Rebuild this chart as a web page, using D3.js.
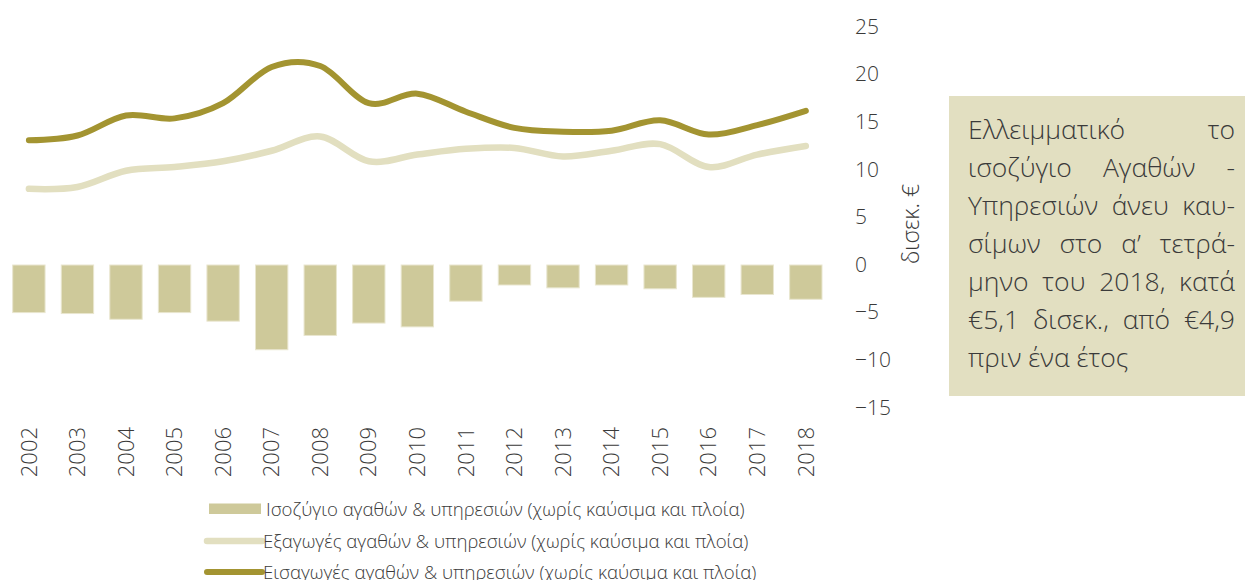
<!DOCTYPE html>
<html>
<head>
<meta charset="utf-8">
<script src="https://cdn.jsdelivr.net/npm/d3@7"></script>
<style>
  html, body { margin: 0; padding: 0; background: #fff; }
  svg { display: block; font-family: "Open Sans", "Noto Sans", sans-serif; font-weight: 300; }
</style>
</head>
<body>
<svg id="chart" width="1245" height="580"></svg>
<script>
// Years on the category axis
const years = ["2002","2003","2004","2005","2006","2007","2008","2009","2010",
               "2011","2012","2013","2014","2015","2016","2017","2018"];
// Balance of goods & services excl. fuel and ships (bn €)
const balance = [-5.0,-5.1,-5.7,-5.0,-5.9,-8.9,-7.4,-6.1,-6.5,-3.8,-2.1,-2.4,-2.1,-2.5,-3.4,-3.1,-3.6];
// Exports of goods & services excl. fuel and ships (bn €)
const exportsVals = [8.0,8.2,9.9,10.3,10.9,12.0,13.5,10.9,11.6,12.2,12.3,11.4,12.0,12.7,10.3,11.6,12.5];
// Imports of goods & services excl. fuel and ships (bn €)
const importsVals = [13.1,13.6,15.7,15.4,17.0,20.8,20.9,17.0,18.0,16.1,14.4,14.0,14.1,15.2,13.7,14.7,16.2];
// Value axis ticks
const yTicks = [25,20,15,10,5,0,-5,-10,-15];

const legendLabels = [
  "Ισοζύγιο αγαθών & υπηρεσιών (χωρίς καύσιμα και πλοία)",
  "Εξαγωγές αγαθών & υπηρεσιών (χωρίς καύσιμα και πλοία)",
  "Εισαγωγές αγαθών & υπηρεσιών (χωρίς καύσιμα και πλοία)"
];
const axisTitle = "δισεκ. €";
// Commentary box, one entry per line
const noteLines = [
  "Ελλειμματικό το",
  "ισοζύγιο Αγαθών -",
  "Υπηρεσιών άνευ καυ-",
  "σίμων στο α’ τετρά-",
  "μηνο του 2018, κατά",
  "€5,1 δισεκ., από €4,9",
  "πριν ένα έτος"
];

const C = {
  bar: "#cec99a",
  barEdge: "#e9e6cf",
  exp: "#e2dfc0",
  imp: "#a39431",
  box: "#e2dfc1",
  text: "#3a3a3a"
};

const svg = d3.select("#chart");

const x = d3.scaleBand().domain(years).range([4.6, 830.1]).paddingInner(1/3).paddingOuter(1/6);
const y = d3.scaleLinear().domain([-15, 25]).range([407.8, 27]);

// Bars
svg.append("g").selectAll("rect").data(years).join("rect")
  .attr("x", d => x(d))
  .attr("width", x.bandwidth())
  .attr("y", (d, i) => Math.min(y(0), y(balance[i])))
  .attr("height", (d, i) => Math.abs(y(balance[i]) - y(0)))
  .attr("fill", C.bar)
  .attr("stroke", C.barEdge)
  .attr("stroke-width", 1);

// Smoothed lines
const line = d3.line()
  .x(d => x(d.year) + x.bandwidth() / 2)
  .y(d => y(d.v))
  .curve(d3.curveCardinal.tension(0));

const expData = years.map((yr, i) => ({ year: yr, v: exportsVals[i] }));
const impData = years.map((yr, i) => ({ year: yr, v: importsVals[i] }));

svg.append("path").datum(expData).attr("d", line)
  .attr("fill", "none").attr("stroke", C.exp).attr("stroke-width", 6.5)
  .attr("stroke-linecap", "round").attr("stroke-linejoin", "round");
svg.append("path").datum(impData).attr("d", line)
  .attr("fill", "none").attr("stroke", C.imp).attr("stroke-width", 6)
  .attr("stroke-linecap", "round").attr("stroke-linejoin", "round");

// Value axis (labels only, on the right)
const yAxis = d3.axisRight(y).tickValues(yTicks).tickSize(0).tickPadding(0).tickFormat(d3.format("d"));
const gy = svg.append("g").attr("transform", "translate(855,0)").call(yAxis);
gy.select(".domain").remove();
gy.selectAll("text")
  .attr("font-family", "Open Sans, sans-serif")
  .attr("font-weight", 300)
  .attr("font-size", 21)
  .attr("fill", C.text)
  .attr("x", 0).attr("dy", "0.3em");

// Axis title
svg.append("text")
  .attr("transform", "translate(919,224) rotate(-90)")
  .attr("text-anchor", "middle")
  .attr("font-size", 23)
  .attr("fill", C.text)
  .text(axisTitle);

// Category axis (rotated labels)
const xAxis = d3.axisBottom(x).tickSize(0).tickPadding(0);
const gx = svg.append("g").attr("transform", "translate(0,427)").call(xAxis);
gx.select(".domain").remove();
gx.selectAll("text")
  .attr("font-family", "Open Sans, sans-serif")
  .attr("font-weight", 300)
  .attr("font-size", 22)
  .attr("fill", C.text)
  .attr("transform", "rotate(-90)")
  .attr("text-anchor", "end")
  .attr("x", 0).attr("y", 0)
  .attr("dy", "0.35em");

// Legend
const lg = svg.append("g");
lg.append("rect").attr("x", 209).attr("y", 503.5).attr("width", 52).attr("height", 10.5).attr("fill", C.bar);
lg.append("line").attr("x1", 207).attr("x2", 262).attr("y1", 541).attr("y2", 541)
  .attr("stroke", C.exp).attr("stroke-width", 6.5).attr("stroke-linecap", "round");
lg.append("line").attr("x1", 207).attr("x2", 262).attr("y1", 572).attr("y2", 572)
  .attr("stroke", C.imp).attr("stroke-width", 6).attr("stroke-linecap", "round");
const legX = [266, 263, 263];
const legY = [509, 541, 572];
legendLabels.forEach((t, i) => {
  lg.append("text").attr("x", legX[i]).attr("y", legY[i]).attr("dy", "0.35em")
    .attr("font-size", 18.6).attr("fill", C.text).text(t);
});

// Commentary box with justified text
svg.append("rect").attr("x", 949).attr("y", 96).attr("width", 296).attr("height", 300).attr("fill", C.box);
const boxLeft = 968, boxRight = 1235, firstBase = 139, lead = 38, noteSize = 26.5;
const note = svg.append("g").attr("font-size", noteSize).attr("fill", C.text);
noteLines.forEach((ln, li) => {
  const words = ln.split(" ");
  const base = firstBase + li * lead;
  const last = li === noteLines.length - 1;
  if (last) {
    note.append("text").attr("x", boxLeft).attr("y", base).text(ln);
    return;
  }
  const nodes = words.map(w => note.append("text").attr("y", base).text(w));
  const widths = nodes.map(n => n.node().getComputedTextLength());
  const total = d3.sum(widths);
  const gap = words.length > 1 ? (boxRight - boxLeft - total) / (words.length - 1) : 0;
  let cx = boxLeft;
  nodes.forEach((n, k) => { n.attr("x", cx); cx += widths[k] + gap; });
});
</script>
</body>
</html>
